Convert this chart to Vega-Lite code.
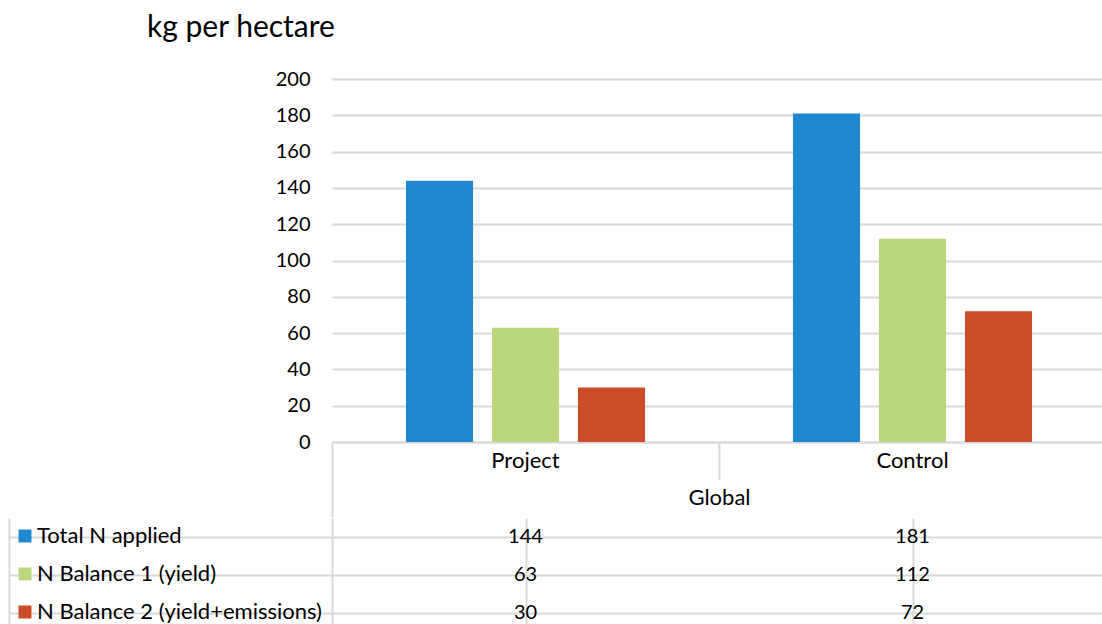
{
  "$schema": "https://vega.github.io/schema/vega-lite/v6.json",
  "data": {
    "values": [
      {"group": "Project", "series": "Total N applied", "value": 144},
      {"group": "Project", "series": "N Balance 1 (yield)", "value": 63},
      {"group": "Project", "series": "N Balance 2 (yield+emissions)", "value": 30},
      {"group": "Control", "series": "Total N applied", "value": 181},
      {"group": "Control", "series": "N Balance 1 (yield)", "value": 112},
      {"group": "Control", "series": "N Balance 2 (yield+emissions)", "value": 72}
    ]
  },
  "padding": {"left": 8, "top": 13, "right": 0, "bottom": 0},
  "spacing": 0,
  "config": {
    "font": "Lato",
    "view": {"stroke": null},
    "axis": {"labelFont": "Lato", "titleFont": "Lato", "labelColor": "#000000", "titleColor": "#000000"},
    "legend": {"labelFont": "Lato"}
  },
  "vconcat": [
    {
      "width": 774,
      "height": 363,
      "title": {
        "text": "kg per hectare",
        "anchor": "start",
        "frame": "group",
        "dx": -185,
        "fontSize": 30,
        "fontWeight": "normal",
        "color": "#000000",
        "font": "Lato",
        "offset": 26
      },
      "mark": {"type": "bar"},
      "encoding": {
        "x": {
          "field": "group",
          "type": "nominal",
          "sort": ["Project", "Control"],
          "scale": {"paddingInner": 0, "paddingOuter": 0},
          "axis": {
            "title": "Global",
            "labelAngle": 0,
            "labelFontSize": 22,
            "labelPadding": {"condition": {"test": "datum.value === 'Project'", "value": -67}, "value": -30},
            "domainColor": "#D9D9D9",
            "domainWidth": 2,
            "ticks": true,
            "bandPosition": 0,
            "tickColor": "#D9D9D9",
            "tickWidth": 2,
            "tickSize": {"condition": {"test": "datum.value === 'Project'", "value": 75}, "value": 38},
            "titleFontSize": 22,
            "titleFontWeight": "normal",
            "titlePadding": -31
          }
        },
        "xOffset": {
          "field": "series",
          "type": "nominal",
          "sort": ["Total N applied", "N Balance 1 (yield)", "N Balance 2 (yield+emissions)"],
          "scale": {"paddingInner": 0.22, "paddingOuter": 0.86}
        },
        "y": {
          "field": "value",
          "type": "quantitative",
          "scale": {"domain": [0, 200]},
          "axis": {
            "title": null,
            "values": [0, 20, 40, 60, 80, 100, 120, 140, 160, 180, 200],
            "domain": false,
            "ticks": false,
            "labelFontSize": 20,
            "labelPadding": 22,
            "gridColor": "#D9D9D9",
            "gridWidth": 2
          }
        },
        "color": {
          "field": "series",
          "type": "nominal",
          "scale": {
            "domain": ["Total N applied", "N Balance 1 (yield)", "N Balance 2 (yield+emissions)"],
            "range": ["#2088D0", "#BCD67E", "#CB4D28"]
          },
          "legend": {
            "title": null,
            "orient": "none",
            "legendX": -318,
            "legendY": 446,
            "symbolType": "square",
            "symbolSize": 169,
            "symbolStrokeWidth": 0,
            "labelFontSize": 22,
            "labelColor": "#000000",
            "labelLimit": 400,
            "labelOffset": 1,
            "rowPadding": 16
          }
        }
      }
    },
    {
      "width": 774,
      "height": 114,
      "encoding": {
        "x": {
          "field": "group",
          "type": "nominal",
          "sort": ["Project", "Control"],
          "scale": {"paddingInner": 0, "paddingOuter": 0},
          "axis": {
            "title": null,
            "labels": false,
            "ticks": false,
            "domain": false,
            "grid": true,
            "bandPosition": 0,
            "gridColor": "#D9D9D9",
            "gridWidth": 2
          }
        },
        "y": {
          "field": "series",
          "type": "nominal",
          "sort": ["Total N applied", "N Balance 1 (yield)", "N Balance 2 (yield+emissions)"],
          "scale": {"paddingInner": 0, "paddingOuter": 0}
        }
      },
      "layer": [
        {
          "mark": {"type": "text", "fontSize": 20, "color": "#000000", "font": "Lato"},
          "encoding": {
            "text": {"field": "value", "type": "quantitative"},
            "y": {
              "field": "series",
              "type": "nominal",
              "sort": ["Total N applied", "N Balance 1 (yield)", "N Balance 2 (yield+emissions)"],
              "scale": {"paddingInner": 0, "paddingOuter": 0},
              "axis": {
                "title": null,
                "labels": false,
                "ticks": true,
                "tickSize": 323,
                "tickColor": "#D9D9D9",
                "tickWidth": 2,
                "bandPosition": 0,
                "domain": true,
                "domainColor": "#D9D9D9",
                "domainWidth": 2,
                "grid": true,
                "gridColor": "#D9D9D9",
                "gridWidth": 2
              }
            }
          }
        },
        {
          "mark": {"type": "text", "opacity": 0},
          "encoding": {
            "text": {"field": "value", "type": "quantitative"},
            "y": {
              "field": "series",
              "type": "nominal",
              "sort": ["Total N applied", "N Balance 1 (yield)", "N Balance 2 (yield+emissions)"],
              "axis": {
                "title": null,
                "orient": "left",
                "offset": 323,
                "labels": false,
                "ticks": false,
                "grid": false,
                "domain": true,
                "domainColor": "#D9D9D9",
                "domainWidth": 2
              }
            }
          }
        }
      ],
      "resolve": {"axis": {"y": "independent"}}
    }
  ]
}
